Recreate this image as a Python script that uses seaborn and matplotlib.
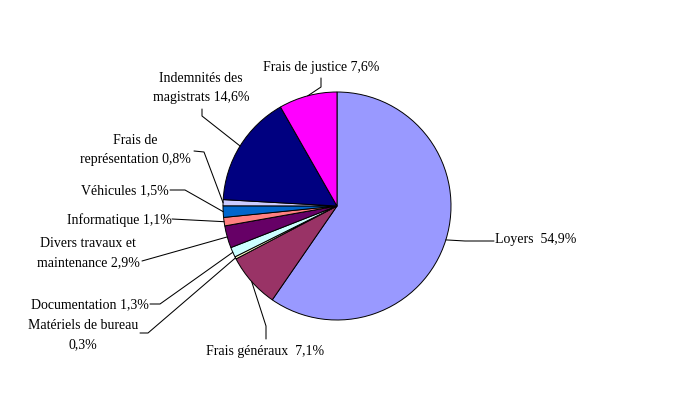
import numpy as np
import matplotlib
matplotlib.use("Agg")
import matplotlib.pyplot as plt
import seaborn as sns

# postes de dépenses, dans l'ordre du camembert (sens horaire depuis midi)
categories = ["Loyers", "Frais généraux", "Matériels de bureau", "Documentation",
              "Divers travaux et maintenance", "Informatique", "Véhicules",
              "Frais de représentation", "Indemnités des magistrats", "Frais de justice"]
values = [54.9, 7.1, 0.3, 1.3, 2.9, 1.1, 1.5, 0.8, 14.6, 7.6]
labels = ["Loyers  54,9%", "Frais généraux  7,1%", "Matériels de bureau\n0,3%",
          "Documentation 1,3%", "Divers travaux et\nmaintenance 2,9%",
          "Informatique 1,1%", "Véhicules 1,5%", "Frais de\nreprésentation 0,8%",
          "Indemnités des\nmagistrats 14,6%", "Frais de justice 7,6%"]
colors = ["#9999FF", "#993366", "#FFFFCC", "#CCFFFF", "#660066",
          "#FF8080", "#0066CC", "#CCCCFF", "#000080", "#FF00FF"]

# mise en page en pixels (y vers le bas) : centre du texte, début du trait, coude
label_pos = [(536, 240), (265, 352), (83, 335), (90, 305), (88, 253),
             (119, 220), (125, 191), (135, 150), (201, 88), (321, 67)]
leader_start = [(494, 242), (266, 340), (140, 334), (150, 305), (142, 262),
                (172, 220), (170, 191), (194, 152), (202, 110), (321, 79)]
leader_elbow = [(465, 242), (266, 327), (148, 334), (160, 305), (142, 262),
                (172, 220), (185, 191), (204, 153), (202, 117), (321, 88)]

W, H = 675, 414
CX, CY, R = 337, 207, 114


def px(x, y):
    return x, H - y


sns.set_style("white")
plt.rcParams["font.family"] = ["Liberation Serif", "DejaVu Serif"]

fig = plt.figure(figsize=(W / 100, H / 100), dpi=100)
ax = fig.add_axes([0, 0, 1, 1])

wedges, _ = ax.pie(values, colors=colors, startangle=90, counterclock=False,
                   center=px(CX, CY), radius=R,
                   wedgeprops=dict(edgecolor="black", linewidth=0.7))
ax.set_xlim(0, W)
ax.set_ylim(0, H)
ax.set_aspect("equal")
ax.axis("off")

for w, lab, tp, sp, ep in zip(wedges, labels, label_pos, leader_start, leader_elbow):
    mid = np.deg2rad((w.theta1 + w.theta2) / 2)
    ax_x = CX + R * np.cos(mid)
    ax_y = H - CY + R * np.sin(mid)
    xs = [px(*sp)[0], px(*ep)[0], ax_x]
    ys = [px(*sp)[1], px(*ep)[1], ax_y]
    ax.plot(xs, ys, color="black", lw=0.75)
    ax.text(*px(*tp), lab, ha="center", va="center", multialignment="center",
            fontsize=10, linespacing=1.55, color="black")

fig.savefig("out.png", dpi=100)
